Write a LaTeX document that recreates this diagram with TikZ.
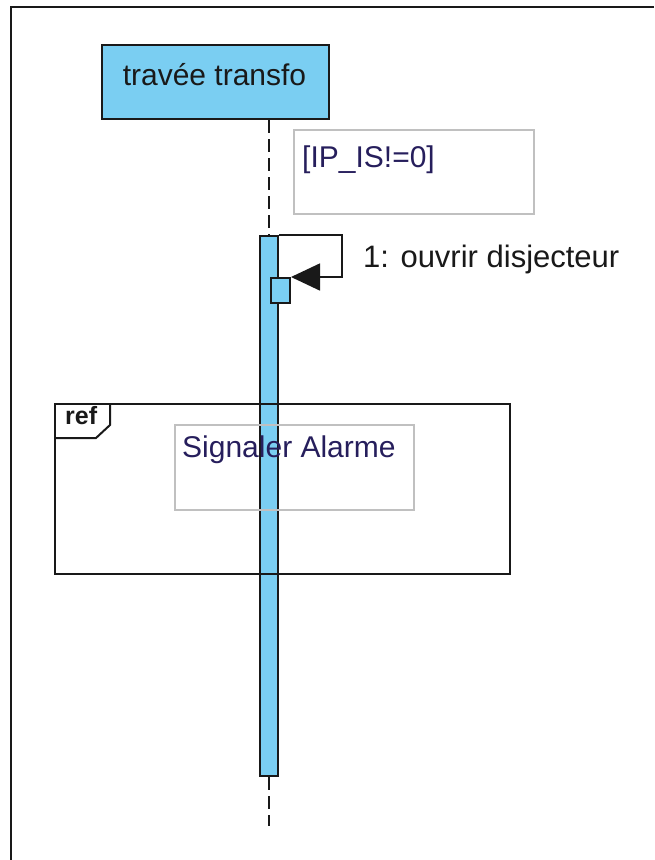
\documentclass[tikz,border=0pt]{standalone}
\usepackage{fontspec}
\setmainfont{Liberation Sans}
\usetikzlibrary{arrows.meta}

\definecolor{lifeblue}{RGB}{122,206,242}
\definecolor{notegrey}{RGB}{192,192,192}
\definecolor{guardink}{RGB}{38,30,92}
\definecolor{inkdark}{RGB}{25,25,25}

\tikzset{
  label30/.style={font=\fontsize{30}{36}\selectfont, inner sep=0pt, text=inkdark},
  headbox/.style={draw=inkdark, line width=2pt, fill=lifeblue, inner sep=0pt},
  actbar/.style={draw=inkdark, line width=2pt, fill=lifeblue, inner sep=0pt},
  lifeline/.style={draw=inkdark, line width=2pt, dash pattern=on 13pt off 6pt},
  selfmsg/.style={draw=inkdark, line width=1.6pt, -{Triangle[length=29pt,width=27pt]}},
  notebox/.style={draw=notegrey, line width=1.6pt, inner sep=0pt},
  refframe/.style={draw=inkdark, line width=2pt, inner sep=0pt},
  outerframe/.style={draw=inkdark, line width=2.5pt},
}

\begin{document}
\begin{tikzpicture}[x=1pt,y=-1pt]
  \useasboundingbox (0,0) rectangle (654,860);

  % diagram frame
  \draw[outerframe] (654,7) -- (11,7) -- (11,860);

  % lifeline head
  \node[headbox, anchor=north west, minimum width=227pt, minimum height=74pt] (head) at (101,44) {};
  \node[label30, anchor=base] (headtext) at (214.5,85) {travée transfo};

  % activation bar and lifeline
  \node[actbar, anchor=north, minimum width=18pt, minimum height=540pt] (bar) at (269,235) {};
  \coordinate (lifeend) at (269,826);
  \draw[lifeline] (head.south -| bar.north) -- (bar.north);
  \draw[lifeline] (bar.south) -- (lifeend);

  % nested activation of the self call
  \node[actbar, anchor=north west, minimum width=19pt, minimum height=25pt] (act) at (270,277) {};

  % self message
  \draw[selfmsg] (bar.north east) -- ++(63,0) |- (act.north east);
  \node[label30, anchor=base west, font=\fontsize{31}{36}\selectfont] (msgtext) at (363,267) {1: ouvrir disjecteur};

  % guard
  \node[notebox, anchor=north west, minimum width=240pt, minimum height=84pt] (guard) at (293,129) {};
  \node[label30, anchor=base west, text=guardink] (guardtext) at (302,167) {[IP\_IS!=0]};

  % interaction use
  \node[refframe, anchor=north west, minimum width=455pt, minimum height=170pt] (ref) at (54,403) {};
  \draw[refframe] ([xshift=56pt]ref.north west) -- ++(0,22) -- ++(-14,13) -- ([yshift=-35pt]ref.north west);
  \node[font=\fontsize{25}{29}\selectfont\bfseries, inner sep=0pt, anchor=base west, text=inkdark] (reftag) at (65,424) {ref};
  \node[notebox, anchor=north west, minimum width=239pt, minimum height=85pt] (refname) at (174,424) {};
  \node[label30, anchor=base west, text=guardink] (refnametext) at (182,457) {Signaler Alarme};
\end{tikzpicture}
\end{document}
